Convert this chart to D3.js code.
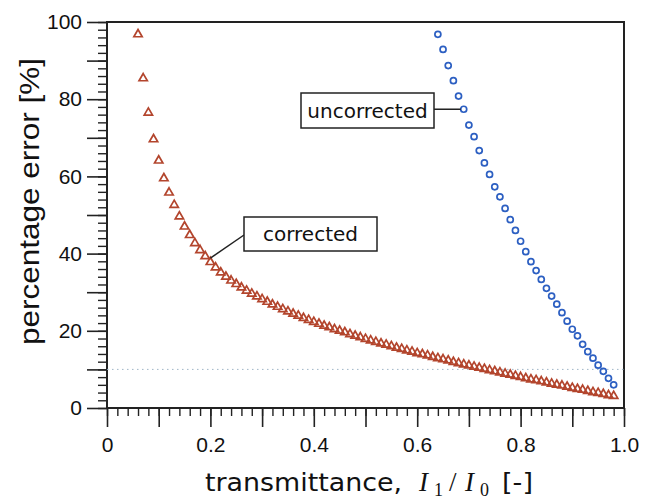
<html>
<head>
    <meta charSet="utf-8">
    <title>Percentage error vs transmittance</title>
    <script src="https://d3js.org/d3.v7.min.js"></script>
    <style>
        body { margin: 0; background: #fff; }
        .axis path, .axis line { stroke: #222; }
        .axis text { font-family: "Liberation Sans", Arial, sans-serif; font-size: 21px; fill: #111; }
    </style>
</head>
<body>
<svg id="chart"></svg>
<script>
    // transmittance I1/I0 for each series
    const correctedT = d3.range(6, 99).map(d => d / 100);
    const uncorrectedT = d3.range(64, 99).map(d => d / 100);

    // percentage error
    const correctedErr = [
        96.8, 85.4, 76.5, 69.6, 64.1, 59.5, 55.8, 52.6, 49.6, 47.0,
        44.8, 42.7, 40.9, 39.3, 37.8, 36.4, 35.1, 34.0, 33.0, 32.1,
        31.2, 30.4, 29.6, 28.9, 28.2, 27.5, 26.8, 26.2, 25.6, 25.0,
        24.4, 23.9, 23.3, 22.8, 22.3, 21.8, 21.3, 20.9, 20.4, 20.0,
        19.6, 19.1, 18.7, 18.3, 17.9, 17.5, 17.1, 16.7, 16.4, 16.0,
        15.6, 15.3, 14.9, 14.6, 14.2, 13.9, 13.6, 13.2, 12.9, 12.6,
        12.3, 11.9, 11.6, 11.3, 11.0, 10.7, 10.4, 10.1, 9.8, 9.5,
        9.2, 8.9, 8.6, 8.3, 8.0, 7.7, 7.4, 7.2, 6.9, 6.6,
        6.3, 6.0, 5.8, 5.5, 5.2, 4.9, 4.7, 4.4, 4.1, 3.9,
        3.6, 3.3, 3.1
    ];
    const uncorrectedErr = [
        96.8, 92.9, 88.7, 84.8, 80.8, 77.4, 73.3, 70.3, 66.7, 63.5,
        60.5, 57.3, 54.7, 51.7, 48.8, 46.0, 43.2, 40.5, 37.9, 35.6,
        33.3, 31.0, 29.0, 26.9, 24.7, 22.5, 20.4, 18.7, 16.5, 14.6,
        12.9, 11.1, 9.5, 7.7, 6.0
    ];

    const referenceLevel = 10; // dotted line
    const xTickLabels = ["0", "0.2", "0.4", "0.6", "0.8", "1.0"];
    const yTickLabels = ["0", "20", "40", "60", "80", "100"];

    const width = 652, height = 500;
    const plotLeft = 107, plotRight = 624, plotTop = 22, plotBottom = 408;

    const svg = d3.select("#chart")
        .attr("width", width)
        .attr("height", height);

    const x = d3.scaleLinear().domain([0, 1]).range([plotLeft, plotRight]);
    const y = d3.scaleLinear().domain([0, 100]).range([plotBottom, plotTop]);

    // minor ticks
    svg.append("g")
        .attr("class", "axis")
        .attr("transform", `translate(${plotLeft},0)`)
        .call(d3.axisLeft(y).tickValues(d3.range(0, 101, 2)).tickSize(9).tickFormat(""))
        .call(g => g.selectAll("line").attr("stroke-width", 1.4))
        .call(g => g.select(".domain").remove());
    svg.append("g")
        .attr("class", "axis")
        .attr("transform", `translate(0,${plotBottom})`)
        .call(d3.axisBottom(x).tickValues(d3.range(0, 51).map(d => d / 50)).tickSize(8).tickFormat(""))
        .call(g => g.selectAll("line").attr("stroke-width", 1.4))
        .call(g => g.select(".domain").remove());

    // major ticks with labels
    svg.append("g")
        .attr("class", "axis")
        .attr("transform", `translate(${plotLeft},0)`)
        .call(d3.axisLeft(y).tickValues(d3.range(0, 101, 10)).tickSize(20).tickPadding(5)
            .tickFormat(d => yTickLabels.includes(String(d)) ? String(d) : ""))
        .call(g => g.selectAll("line").attr("stroke-width", 1.6))
        .call(g => g.select(".domain").remove());
    svg.append("g")
        .attr("class", "axis")
        .attr("transform", `translate(0,${plotBottom})`)
        .call(d3.axisBottom(x).tickValues(d3.range(0, 11).map(d => d / 10)).tickSize(19).tickPadding(10)
            .tickFormat(d => {
                const i = Math.round(d * 10);
                return i % 2 === 0 ? xTickLabels[i / 2] : "";
            }))
        .call(g => g.selectAll("line").attr("stroke-width", 1.6))
        .call(g => g.select(".domain").remove());

    // frame
    svg.append("rect")
        .attr("x", plotLeft)
        .attr("y", plotTop)
        .attr("width", plotRight - plotLeft)
        .attr("height", plotBottom - plotTop)
        .attr("fill", "none")
        .attr("stroke", "#222")
        .attr("stroke-width", 2);

    // dotted reference line
    svg.append("line")
        .attr("x1", x(0))
        .attr("x2", x(1))
        .attr("y1", y(referenceLevel))
        .attr("y2", y(referenceLevel))
        .attr("stroke", "#9fb6c8")
        .attr("stroke-width", 1)
        .attr("stroke-dasharray", "1.5,3.5");

    // corrected: open triangles
    const tri = d3.symbol().type(d3.symbolTriangle).size(30);
    svg.append("g")
        .selectAll("path")
        .data(correctedT.map((t, i) => [t, correctedErr[i]]))
        .join("path")
        .attr("d", tri)
        .attr("transform", d => `translate(${x(d[0])},${y(d[1])})`)
        .attr("fill", "none")
        .attr("stroke", "#b3452d")
        .attr("stroke-width", 1.7);

    // uncorrected: open circles
    svg.append("g")
        .selectAll("circle")
        .data(uncorrectedT.map((t, i) => [t, uncorrectedErr[i]]))
        .join("circle")
        .attr("cx", d => x(d[0]))
        .attr("cy", d => y(d[1]))
        .attr("r", 3)
        .attr("fill", "none")
        .attr("stroke", "#2c5fc2")
        .attr("stroke-width", 1.7);

    // annotations
    function label(text, bx, by, bw, bh, lx1, ly1, lx2, ly2) {
        svg.append("line")
            .attr("x1", lx1).attr("y1", ly1)
            .attr("x2", lx2).attr("y2", ly2)
            .attr("stroke", "#222")
            .attr("stroke-width", 1.5);
        svg.append("rect")
            .attr("x", bx).attr("y", by)
            .attr("width", bw).attr("height", bh)
            .attr("fill", "#fff")
            .attr("stroke", "#222")
            .attr("stroke-width", 1.5);
        svg.append("text")
            .attr("x", bx + bw / 2)
            .attr("y", by + bh / 2 + 7)
            .attr("text-anchor", "middle")
            .attr("font-family", "DejaVu Sans, Verdana, sans-serif")
            .attr("font-size", 20)
            .attr("fill", "#111")
            .text(text);
    }

    const cIdx = correctedT.indexOf(0.2);
    label("corrected", 244, 217, 133, 34,
        244, 235, x(correctedT[cIdx]), y(correctedErr[cIdx]) - 4);

    const uIdx = uncorrectedT.indexOf(0.69);
    label("uncorrected", 301, 93, 133, 35,
        434, y(uncorrectedErr[uIdx]), x(uncorrectedT[uIdx]) - 3, y(uncorrectedErr[uIdx]));

    // axis titles
    svg.append("text")
        .attr("transform", `translate(39,${(58 + 345) / 2}) rotate(-90)`)
        .attr("text-anchor", "middle")
        .attr("font-family", "Liberation Sans, Arial, sans-serif")
        .attr("font-size", 28)
        .attr("textLength", 287)
        .attr("lengthAdjust", "spacingAndGlyphs")
        .attr("fill", "#111")
        .text("percentage error [%]");

    const sans = "DejaVu Sans, Verdana, sans-serif";
    const math = "Liberation Serif, Times New Roman, serif";
    const xTitle = svg.append("g").attr("fill", "#111");
    const titleBase = 491;
    // [text, x, dy, font, size, italic, stretch width]
    const titleParts = [
        ["transmittance,", 205, 0, sans, 24, false, 197],
        ["I", 419, 0, math, 27, true, null],
        ["1", 434, 5, math, 18, false, null],
        ["/", 449, 0, math, 27, false, null],
        ["I", 465, 0, math, 27, true, null],
        ["0", 480, 5, math, 18, false, null],
        ["[-]", 502, 0, sans, 24, false, 31]
    ];
    titleParts.forEach(p => {
        const t = xTitle.append("text")
            .attr("x", p[1])
            .attr("y", titleBase + p[2])
            .attr("font-family", p[3])
            .attr("font-size", p[4])
            .attr("font-style", p[5] ? "italic" : "normal")
            .text(p[0]);
        if (p[6]) t.attr("textLength", p[6]).attr("lengthAdjust", "spacingAndGlyphs");
    });
</script>
</body>
</html>
